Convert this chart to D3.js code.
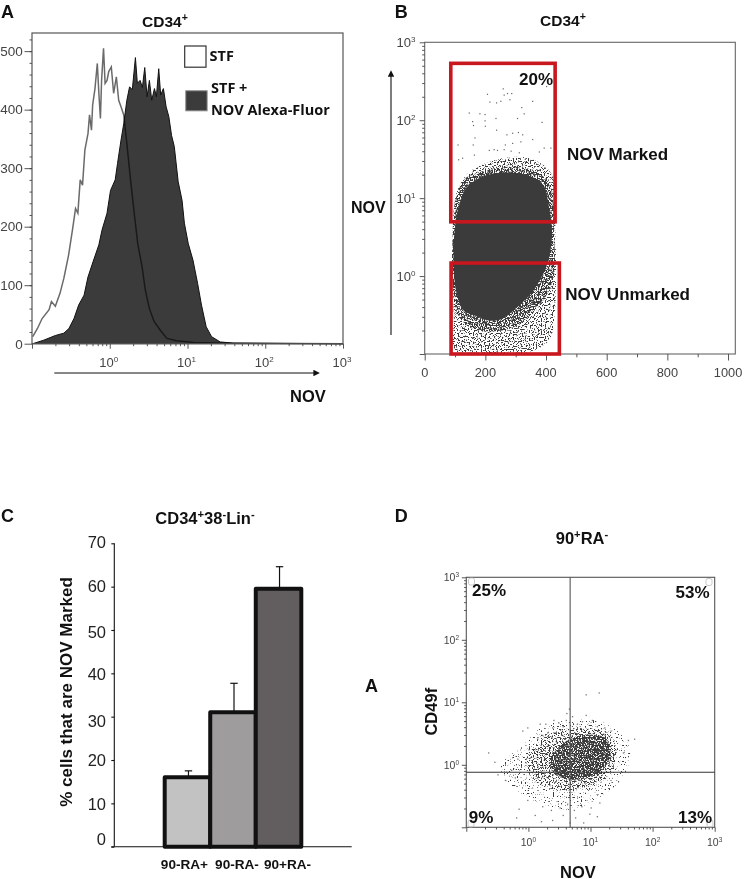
<!DOCTYPE html>
<html><head><meta charset="utf-8">
<script src="https://cdnjs.cloudflare.com/ajax/libs/d3/7.8.5/d3.min.js"></script>
<style>
html,body{margin:0;padding:0;background:#fff}
svg{display:block}
text{font-family:"Liberation Sans",Arial,sans-serif}
.b{font-weight:700;fill:#111}
.tick text{fill:#444}
</style></head><body><svg id="c" width="744" height="879"></svg>
<script>
// Panel A: log10 intensity and event count
const stfE=[-0.99,-0.93,-0.87,-0.78,-0.75,-0.70,-0.64,-0.59,-0.53,-0.48,-0.44,-0.41,-0.38,-0.35,-0.32,-0.28,-0.26,-0.235,-0.22,-0.19,-0.16,-0.14,-0.12,-0.105,-0.08,-0.06,-0.035,-0.013,0.02,0.05,0.085,0.115,0.145,0.18,0.22,0.27,0.32,0.36,0.415,0.457,0.51,0.57,0.65,0.735,0.86,1.08,1.38,3];
const stfV=[12,26,43,58,72,64,86,112,151,194,231,223,280,271,331,359,391,365,408,436,479,428,385,450,505,445,450,465,473,428,456,416,405,391,342,277,217,171,132,92,60,38,23,9,5,2,1,0];
const novE=[-0.99,-0.85,-0.70,-0.59,-0.525,-0.46,-0.40,-0.33,-0.28,-0.215,-0.14,-0.10,-0.035,0.01,0.07,0.10,0.145,0.18,0.22,0.255,0.29,0.33,0.355,0.39,0.42,0.45,0.48,0.51,0.54,0.575,0.60,0.63,0.655,0.69,0.725,0.76,0.795,0.83,0.88,0.93,0.96,1.01,1.07,1.13,1.18,1.24,1.31,1.42,1.59,2.23,3];
const novV=[0,6,14,18,26,43,66,83,114,140,169,194,223,262,280,308,348,376,416,439,434,489,445,450,438,472,422,450,416,436,422,470,425,436,405,388,356,337,277,245,206,171,143,103,66,29,12,3,1,0.5,0];
const countTicks=[0,100,200,300,400,500];
const decades=[-1,0,1,2,3];

// Panel B: side scatter value and log10 NOV. Outlines of the saturated cloud and its fringe, then the individually visible events.
const bCore=[[134,1.115],[107,.816],[99,.56],[95,.346],[97,0],[107,-.25],[129,-.444],[167,-.51],[211,-.57],[255,-.55],[299,-.42],[354,-.21],[387,0],[409,.22],[420,.56],[409,.90],[392,1.16],[343,1.29],[266,1.33],[200,1.29],[156,1.20]];
const bFringeInner=[[100,.95],[125,1.22],[156,1.30],[266,1.40],[354,1.36],[412,1.18],[426,.56],[426,0],[408,-.20],[372,-.40],[310,-.62],[255,-.70],[160,-.68],[110,-.50],[92,-.10],[92,.50]];
const bFringe=[[97,.90],[114,1.16],[156,1.36],[266,1.52],[354,1.50],[420,1.30],[431,.56],[433,0],[428,-.51],[412,-.81],[354,-.96],[156,-.98],[101,-.96],[96,-.51]];
const bSparse=[[205,2.34],[257,2.41],[260,2.33],[271,2.35],[285,2.35],[213,2.24],[235,2.23],[249,2.25],[279,2.27],[354,2.25],[318,2.17],[145,2.10],[180,2.09],[197,2.08],[197,2.00],[233,2.03],[304,2.03],[326,2.09],[156,1.99],[159,1.94],[198,1.93],[235,1.88],[385,1.98],[269,1.82],[288,1.84],[307,1.85],[321,1.82],[354,1.76],[164,1.78],[108,1.69],[158,1.69],[264,1.69],[315,1.73],[288,1.71],[392,1.65],[414,1.65],[211,1.62],[227,1.63],[238,1.62],[260,1.63],[376,1.60],[123,1.52],[110,1.50],[162,1.56],[283,1.61],[310,1.59],[400,2.44]];

// Panel C
const categories=["90-RA+","90-RA-","90+RA-"];
const percent=[16,31,59.5];
const errorTop=[17.5,37.7,64.6];
const barColors=["#c3c2c3","#9f9c9d","#625e5f"];
const percentTicks=[0,10,20,30,40,50,60,70];
const percentLabelNudge=[-1.7,6.7,6,10.4,7,8,5.3,4.7];

// Panel D: log10 NOV and log10 CD49f. Density outlines of the cloud, then the individually visible events.
const dHaze=[[-.45,-.05],[-.05,.35],[.25,.62],[.80,.72],[1.25,.66],[1.62,.30],[1.55,-.15],[1.15,-.52],[.65,-.72],[.20,-.62],[-.22,-.38]];
const dMid=[[-.05,.02],[.18,.38],[.50,.55],[.90,.58],[1.30,.50],[1.42,.15],[1.25,-.22],[.85,-.38],[.45,-.40],[.10,-.25]];
const dCoreHaze=[[.35,.06],[.55,.34],[.85,.47],[1.25,.42],[1.32,.12],[1.12,-.14],[.72,-.24],[.42,-.14]];
const dDark=[[.72,.10],[.85,.21],[.91,.05],[1.02,.18],[.66,.27],[.78,.33],[.94,.29],[1.12,.12],[1.18,.25],[.59,.03],[.63,.15],[.74,-.03],[.88,-.10],[.99,-.07],[1.07,.03],[1.21,.07],[.52,.21],[.47,.11],[.55,-.09],[.81,.41],[.97,.39],[1.09,.33],[.69,.40],[.60,.34],[1.15,.38],[.40,.28],[.36,.14],[.42,-.05],[.33,.04],[.76,.16],[.83,.08],[.89,.15],[.95,.22],[1.04,.26],[.70,.02],[.64,-.06],[.79,-.12],[.86,-.18],[.93,-.14],[1.01,.09],[1.06,.17],[1.14,.19],[1.24,.16],[.57,.09],[.50,.30],[.45,.18],[.73,.24],[.87,.30],[.92,.12],[.98,.01],[1.10,-.02],[.61,-.14],[.68,-.18],[.75,-.20],[.82,-.24],[.90,-.28],[1.00,-.22],[.53,-.17],[.46,-.13],[.38,-.16],[.29,.18],[.25,.09],[.31,.33],[.22,-.03],[.20,.12],[.58,.42],[.67,.47],[.77,.50],[.89,.46],[1.00,.44],[1.11,.42],[1.20,.33],[1.27,.28],[1.31,.12],[1.29,-.01],[.44,.38],[.37,.44],[.54,.48],[.71,.56],[.84,.58],[.96,.53],[1.05,.51]];
const dLight=[[.0,.25],[-.18,.10],[-.22,-.20],[-.28,-.08],[.14,.42],[.22,.48],[.30,.52],[.38,.60],[.27,.66],[.40,.72],[.18,.66],[.48,.68],[.55,.62],[.60,.72],[.70,.78],[.78,.66],[.86,.70],[.92,.80],[1.02,.72],[1.10,.62],[1.22,.60],[1.32,.55],[1.52,.20],[1.60,.40],[.50,-.68],[.62,-.62],[.73,-.72],[.85,-.66],[1.00,-.68],[1.14,-.60],[.36,-.72],[.22,-.66],[.55,-.80],[.75,-.84],[.98,-.78],[1.10,-.82],[.66,-.92],[.88,-.92],[.38,-.88],[.20,-.90],[.10,-.80],[-.16,-.70],[-.20,-.84],[-.38,-.24],[-.55,.05],[-.50,-.15],[-.02,-.56],[.65,.90],[.92,1.13],[1.13,1.16],[.61,.83],[-.10,.55],[-.02,.60],[1.70,.42],[-.65,.20]];

const svg=d3.select("#c");
function label(x,y,txt,o={}){
  const t=svg.append("text").attr("x",x).attr("y",y).attr("class",o.cls===undefined?"b":o.cls)
    .attr("font-size",o.size||16).attr("text-anchor",o.anchor||"start");
  if(o.font)t.style("font-family",o.font);
  if(o.rotate)t.attr("transform",`rotate(-90 ${x} ${y})`);
  (Array.isArray(txt)?txt:[[txt,0]]).forEach(([s,sup],i,a)=>{
    const prev=i?a[i-1][1]:0, sz=o.size||16;
    const ts=t.append("tspan").text(s);
    if(sup)ts.attr("font-size",sz*.68);
    const dy=(sup?-sz*.36:0)-(prev?-sz*.36:0);
    if(dy)ts.attr("dy",dy);
  });
  return t;
}
function pow10(e){return Math.pow(10,e);}
function minorLogs(){const m=[];for(let d=-1;d<3;d++)for(let k=2;k<10;k++)m.push(k*pow10(d));return m;}
function styleAxis(g,c){g.selectAll("path").remove();g.selectAll("line").attr("stroke",c).attr("stroke-width",.9);}
function decadeLabels(axis,scale,o){
  decades.slice(1).forEach(d=>{
    const v=scale(pow10(d));
    const t=svg.append("text").attr("fill","#444").attr("font-size",o.size);
    if(axis==="x")t.attr("x",v+(o.dx||0)).attr("y",o.pos).attr("text-anchor","middle");
    else t.attr("x",o.pos).attr("y",v+o.size*.36).attr("text-anchor","end");
    t.append("tspan").text("10");
    t.append("tspan").text(d).attr("font-size",o.size*.62).attr("dy",-o.size*.36);
  });
}
function logAxisX(scale,y,maj,min,c){
  svg.append("g").attr("transform",`translate(0,${y})`).call(d3.axisBottom(scale).tickValues(decades.map(pow10)).tickSize(maj).tickFormat("")).call(styleAxis,c);
  svg.append("g").attr("transform",`translate(0,${y})`).call(d3.axisBottom(scale).tickValues(minorLogs()).tickSize(min).tickFormat("")).call(styleAxis,c);
}
function logAxisY(scale,x,maj,min,c){
  svg.append("g").attr("transform",`translate(${x},0)`).call(d3.axisLeft(scale).tickValues(decades.map(pow10)).tickSize(maj).tickFormat("")).call(styleAxis,c);
  svg.append("g").attr("transform",`translate(${x},0)`).call(d3.axisLeft(scale).tickValues(minorLogs()).tickSize(min).tickFormat("")).call(styleAxis,c);
}
const defs=svg.append("defs");
const mk=defs.append("marker").attr("id","ah").attr("viewBox","0 0 10 10").attr("refX",1).attr("refY",5)
   .attr("markerWidth",7.5).attr("markerHeight",6.5).attr("markerUnits","userSpaceOnUse").attr("orient","auto");
mk.append("path").attr("d","M0,0L10,5L0,10Z").attr("fill","#111");
// Grain texture for the density outlines (a rendering style, not data)
function grain(id,thresh,seed){
  const f=defs.append("filter").attr("id",id).attr("filterUnits","userSpaceOnUse").attr("x",0).attr("y",0).attr("width",744).attr("height",879).attr("color-interpolation-filters","sRGB");
  f.append("feTurbulence").attr("type","fractalNoise").attr("baseFrequency",.75).attr("numOctaves",1).attr("seed",seed).attr("result","n");
  f.append("feColorMatrix").attr("in","n").attr("type","matrix").attr("values",`0 0 0 0 .23 0 0 0 0 .23 0 0 0 0 .23 14 0 0 0 ${-14*thresh}`).attr("result","g");
  f.append("feComposite").attr("in","g").attr("in2","SourceAlpha").attr("operator","in");
}
grain("gDense",.47,3);grain("gMid",.53,5);grain("gCore",.44,7);grain("gSparse",.54,8);grain("gFaint",.62,11);

/* ---------- A ---------- */
const ax=d3.scaleLog().domain([.1,1000]).range([32,343]);
const ay=d3.scaleLinear().domain([0,531]).range([343.7,33]);
const area=d3.area().x(d=>ax(pow10(d[0]))).y0(ay(0)).y1(d=>ay(d[1]));
const ln=d3.line().x(d=>ax(pow10(d[0]))).y(d=>ay(d[1]));
svg.append("path").datum(novE.map((e,i)=>[e,novV[i]])).attr("d",area).attr("fill","#3b3b3b").attr("stroke","#111").attr("stroke-width",1);
svg.append("path").datum(stfE.map((e,i)=>[e,stfV[i]])).attr("d",ln).attr("fill","none").attr("stroke","#6a6a6a").attr("stroke-width",1.5).style("mix-blend-mode","multiply");
svg.append("rect").attr("x",32).attr("y",33).attr("width",311).attr("height",310.7).attr("fill","none").attr("stroke","#555").attr("stroke-width",1.2);
svg.append("g").attr("transform","translate(32,0)").call(d3.axisLeft(ay).tickValues(countTicks).tickSize(7.5).tickFormat("")).call(styleAxis,"#444");
svg.append("g").attr("transform","translate(32,0)").call(d3.axisLeft(ay).tickValues(d3.range(20,531,20)).tickSize(2.5).tickFormat("")).call(styleAxis,"#444");
countTicks.forEach(v=>svg.append("text").attr("x",22.7).attr("y",ay(v)+4.8).attr("text-anchor","end").attr("font-size",13.5).attr("fill","#444").text(v));
logAxisX(ax,343.7,5,2.5,"#444");
decadeLabels("x",ax,{size:13,pos:366.5,dx:-1});
svg.append("line").attr("x1",54.3).attr("x2",314).attr("y1",373).attr("y2",373).attr("stroke","#111").attr("stroke-width",1.1).attr("marker-end","url(#ah)");
label(1,18,"A",{size:18});
label(165,27,[["CD34",0],["+",1]],{size:15.5,anchor:"middle"});
label(290,402,"NOV",{size:16.5});
svg.append("rect").attr("x",184.7).attr("y",46).attr("width",21.3).attr("height",21.2).attr("fill","#fff").attr("stroke","#333").attr("stroke-width",1.2);
svg.append("rect").attr("x",185.8).attr("y",90.8).attr("width",21.3).attr("height",20).attr("fill","#3b3b3b").attr("stroke","#888").attr("stroke-width",1);
const calib='"Open Sans","Noto Sans",sans-serif';
label(209.5,60.5,"STF",{size:14.5,font:calib});
label(211,92.5,"STF +",{size:14.5,font:calib});
label(211,114.5,"NOV Alexa-Fluor",{size:14.5,font:calib});

/* ---------- B ---------- */
const bx=d3.scaleLinear().domain([0,1024]).range([424.7,735.3]);
const by=d3.scaleLog().domain([.1,1000]).range([354,42.3]);
const bPoly=d3.line().x(d=>bx(d[0])).y(d=>by(pow10(d[1]))).curve(d3.curveCatmullRomClosed);
svg.append("path").attr("d",bPoly(bFringe)).attr("filter","url(#gMid)");
svg.append("path").attr("d",bPoly(bFringeInner)).attr("filter","url(#gDense)");
svg.append("path").attr("d",bPoly(bCore)).attr("fill","#3b3b3b");
svg.append("g").selectAll("rect").data(bSparse).join("rect")
  .attr("x",d=>bx(d[0])).attr("y",d=>by(pow10(d[1]))).attr("width",1.2).attr("height",1.2).attr("fill","#666");
svg.append("rect").attr("x",424.7).attr("y",42.3).attr("width",310.6).attr("height",311.7).attr("fill","none").attr("stroke","#666").attr("stroke-width",1.1);
svg.append("g").attr("transform","translate(0,354)").call(d3.axisBottom(bx).tickValues([0,200,400,600,800,1000]).tickSize(6.5).tickFormat("")).call(styleAxis,"#444");
svg.append("g").attr("transform","translate(0,354)").call(d3.axisBottom(bx).tickValues([100,300,500,700,900]).tickSize(3.3).tickFormat("")).call(styleAxis,"#444");
[0,200,400,600,800,1000].forEach(v=>svg.append("text").attr("x",bx(v)).attr("y",377).attr("text-anchor","middle").attr("font-size",12.8).attr("fill","#444").text(v));
logAxisY(by,424.7,5,2.5,"#444");
decadeLabels("y",by,{size:13,pos:415.5});
const gate=(x0,x1,y0,y1)=>svg.append("rect").attr("x",bx(x0)).attr("y",by(y1)).attr("width",bx(x1)-bx(x0)).attr("height",by(y0)-by(y1)).attr("fill","none").attr("stroke","#c8171f").attr("stroke-width",3.6);
gate(86,430,4.97,537);
gate(87,444,.1,1.47);
svg.append("line").attr("x1",391).attr("x2",391).attr("y1",335).attr("y2",76).attr("stroke","#111").attr("stroke-width",1.1).attr("marker-end","url(#ah)");
label(394.7,18,"B",{size:18});
label(563,26,[["CD34",0],["+",1]],{size:15.5,anchor:"middle"});
label(351,213,"NOV",{size:16});
label(519,85,"20%",{size:17});
label(567,159.5,"NOV Marked",{size:17});
label(565.3,299.5,"NOV Unmarked",{size:17});

/* ---------- C ---------- */
const cx=d3.scaleBand().domain(categories).range([164.7,301.3]).padding(0);
const cy=d3.scaleLinear().domain([0,70]).range([846.7,543.3]);
svg.append("g").selectAll("line").data(categories).join("line")
  .attr("x1",d=>cx(d)+cx.bandwidth()/2+1).attr("x2",d=>cx(d)+cx.bandwidth()/2+1)
  .attr("y1",(d,i)=>cy(percent[i])).attr("y2",(d,i)=>cy(errorTop[i])).attr("stroke","#111").attr("stroke-width",1.2);
svg.append("g").selectAll("line").data(categories).join("line")
  .attr("x1",d=>cx(d)+cx.bandwidth()/2-2.7).attr("x2",d=>cx(d)+cx.bandwidth()/2+4.7)
  .attr("y1",(d,i)=>cy(errorTop[i])).attr("y2",(d,i)=>cy(errorTop[i])).attr("stroke","#111").attr("stroke-width",1.2);
svg.append("g").selectAll("rect").data(categories).join("rect")
  .attr("x",d=>cx(d)).attr("width",cx.bandwidth())
  .attr("y",(d,i)=>cy(percent[i])).attr("height",(d,i)=>cy(0)-cy(percent[i]))
  .attr("fill",(d,i)=>barColors[i]).attr("stroke","#111").attr("stroke-width",4).attr("stroke-linejoin","round");
svg.append("g").attr("transform","translate(114.3,0)").call(d3.axisLeft(cy).tickValues(percentTicks).tickSize(3).tickFormat("")).call(g=>g.selectAll("line").attr("stroke","#111").attr("stroke-width",1.1)).call(g=>g.select("path").attr("stroke","#111").attr("stroke-width",1.1).attr("d","M0,846.7V543.3"));
svg.append("line").attr("x1",111.3).attr("x2",351.7).attr("y1",846.7).attr("y2",846.7).attr("stroke","#111").attr("stroke-width",1.1);
percentTicks.forEach((v,i)=>svg.append("text").attr("x",106).attr("y",cy(v)+percentLabelNudge[i]).attr("text-anchor","end").attr("font-size",16.5).attr("fill","#222").text(v));
const catShift=[-3,4,9];
categories.forEach((c,i)=>label(cx(c)+cx.bandwidth()/2+catShift[i],869,c,{size:13.6,anchor:"middle"}));
label(1,522,"C",{size:18});
label(205,523.5,[["CD34",0],["+",1],["38",0],["-",1],["Lin",0],["-",1]],{size:16.5,anchor:"middle"});
label(72,692,"% cells that are NOV Marked",{size:17,anchor:"middle",rotate:true});
label(365,691.5,"A",{size:18});

/* ---------- D ---------- */
const dxs=d3.scaleLog().domain([.1,1000]).range([466.3,714.7]);
const dys=d3.scaleLog().domain([.1,1000]).range([827.3,577.3]);
const dPoly=d3.line().x(d=>dxs(pow10(d[0]))).y(d=>dys(pow10(d[1]))).curve(d3.curveCatmullRomClosed);
svg.append("path").attr("d",dPoly(dHaze)).attr("filter","url(#gFaint)");
svg.append("path").attr("d",dPoly(dMid)).attr("filter","url(#gSparse)");
svg.append("path").attr("d",dPoly(dCoreHaze)).attr("filter","url(#gCore)");
const dots=(arr,c)=>svg.append("g").selectAll("rect").data(arr).join("rect")
  .attr("x",d=>dxs(pow10(d[0]))).attr("y",d=>dys(pow10(d[1]))).attr("width",1.3).attr("height",1.3).attr("fill",c);
dots(dLight,"#777");
dots(dDark,"#333");
svg.append("rect").attr("x",466.3).attr("y",577.3).attr("width",248.4).attr("height",250).attr("fill","none").attr("stroke","#555").attr("stroke-width",1.1);
const cornerHandles=[[468.5,578],[706,578.5],[468,820],[707,820]];
svg.append("g").selectAll("rect").data(cornerHandles).join("rect").attr("x",d=>d[0]).attr("y",d=>d[1]).attr("width",6).attr("height",7).attr("rx",2).attr("fill","none").attr("stroke","#bbb").attr("stroke-width",.8);
const gateX=4.7,gateY=.76;
svg.append("line").attr("x1",dxs(gateX)).attr("x2",dxs(gateX)).attr("y1",577.3).attr("y2",827.3).attr("stroke","#555").attr("stroke-width",1.1);
svg.append("line").attr("x1",466.3).attr("x2",714.7).attr("y1",dys(gateY)).attr("y2",dys(gateY)).attr("stroke","#333").attr("stroke-width",1.1);
logAxisX(dxs,827.3,4.5,2.2,"#444");
logAxisY(dys,466.3,4.5,2.2,"#444");
decadeLabels("x",dxs,{size:10.5,pos:846});
decadeLabels("y",dys,{size:10.5,pos:459});
label(394.7,522,"D",{size:18});
label(582,544.3,[["90",0],["+",1],["RA",0],["-",1]],{size:16.5,anchor:"middle"});
label(472,596,"25%",{size:17});
label(709.5,598.3,"53%",{size:17,anchor:"end"});
label(468.7,822.7,"9%",{size:17});
label(712,822.7,"13%",{size:17,anchor:"end"});
label(578,877.5,"NOV",{size:16.5,anchor:"middle"});
label(437.5,711.7,"CD49f",{size:16.5,anchor:"middle",rotate:true});
</script></body></html>
